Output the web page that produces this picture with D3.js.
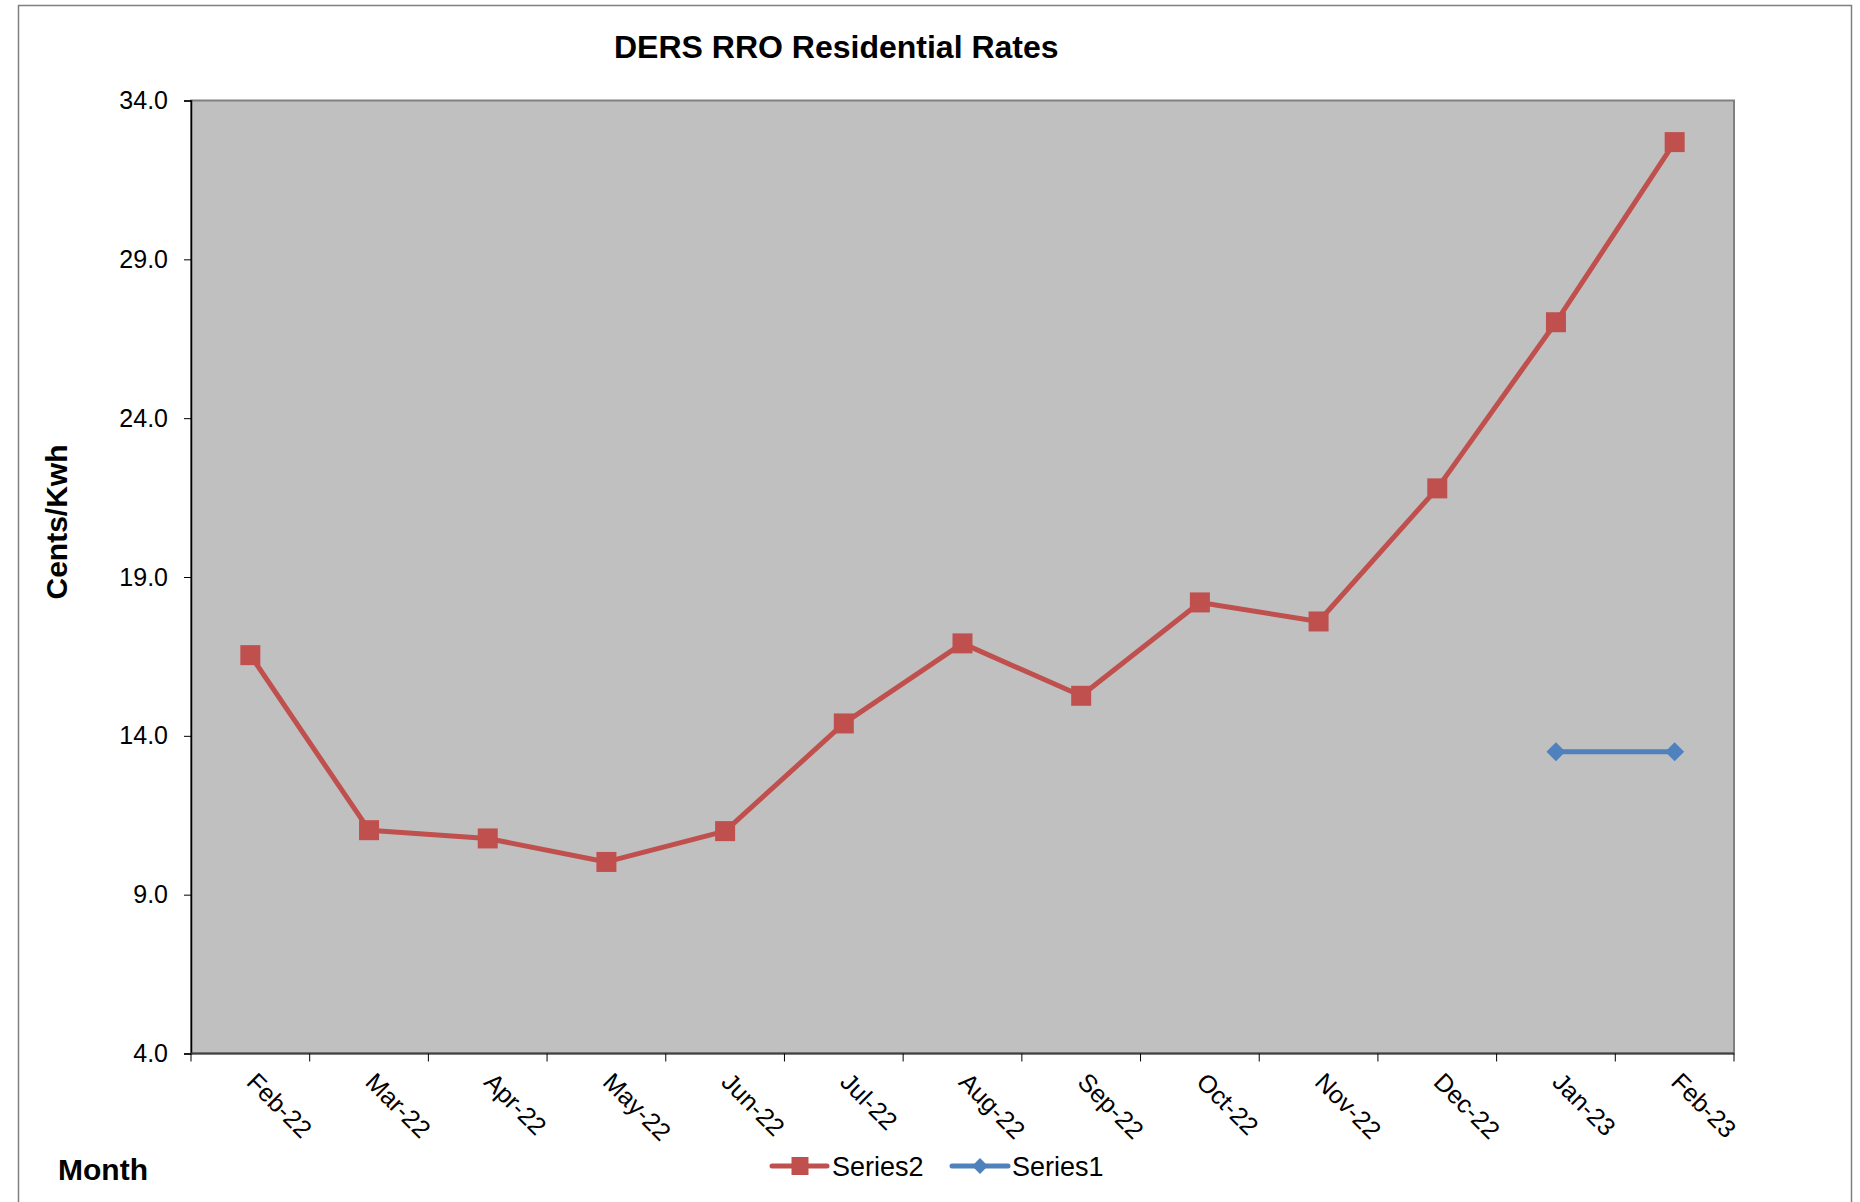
<!DOCTYPE html>
<html>
<head>
<meta charset="utf-8">
<script src="https://cdn.jsdelivr.net/npm/d3@7"></script>
<style>
  html, body { margin: 0; padding: 0; background: #ffffff; }
  svg { display: block; font-family: "Liberation Sans", Arial, sans-serif; }
</style>
</head>
<body>
<svg id="chart" width="1860" height="1202"></svg>
<script>
// ---- data ----
const categories = ["Feb-22","Mar-22","Apr-22","May-22","Jun-22","Jul-22","Aug-22","Sep-22","Oct-22","Nov-22","Dec-22","Jan-23","Feb-23"];
const series2 = [16.54, 11.03, 10.77, 10.03, 11.00, 14.39, 16.91, 15.26, 18.20, 17.60, 21.79, 27.02, 32.69];
const series1 = [null, null, null, null, null, null, null, null, null, null, null, 13.5, 13.5];
const yTicks = [4, 9, 14, 19, 24, 29, 34];
const seriesNames = ["Series2", "Series1"];
const colors = { Series2: "#c0504d", Series1: "#4f81bd" };

// ---- layout ----
const svg = d3.select("#chart");
const plot = { left: 191, right: 1734, top: 100.5, bottom: 1053.5 };

const x = d3.scaleBand().domain(categories).range([plot.left, plot.right]).padding(0);
const y = d3.scaleLinear().domain([4, 34]).range([plot.bottom, plot.top]);
const cx = c => x(c) + x.bandwidth() / 2;

// outer chart border
svg.append("rect")
  .attr("x", 18.5).attr("y", 5.5)
  .attr("width", 1851.5 - 18.5).attr("height", 1230)
  .attr("fill", "none").attr("stroke", "#7f7f7f").attr("stroke-width", 1.5);

// plot area
svg.append("rect")
  .attr("x", plot.left).attr("y", plot.top)
  .attr("width", plot.right - plot.left).attr("height", plot.bottom - plot.top)
  .attr("fill", "#c0c0c0").attr("stroke", "#808080").attr("stroke-width", 2);

// title
svg.append("text")
  .attr("x", 614).attr("y", 58)
  .attr("font-size", 32).attr("font-weight", "bold").attr("fill", "#000")
  .text("DERS RRO Residential Rates");

// y axis
const yAxis = d3.axisLeft(y).tickValues(yTicks).tickFormat(d3.format(".1f")).tickSize(7).tickPadding(16);
const gy = svg.append("g").attr("transform", `translate(${plot.left},0)`).call(yAxis);
gy.select(".domain").attr("stroke", "#000").attr("stroke-width", 1.5);
gy.selectAll(".tick line").attr("stroke", "#000").attr("stroke-width", 1);
gy.selectAll(".tick text").attr("font-size", 25).attr("fill", "#000")
  .attr("font-family", "Liberation Sans, Arial, sans-serif");

// x axis line
svg.append("line")
  .attr("x1", plot.left).attr("x2", plot.right)
  .attr("y1", plot.bottom).attr("y2", plot.bottom)
  .attr("stroke", "#404040").attr("stroke-width", 2);

// x boundary ticks
const boundaries = categories.map(c => x(c)).concat([x(categories[categories.length - 1]) + x.bandwidth()]);
svg.append("g").selectAll("line").data(boundaries).join("line")
  .attr("x1", d => d).attr("x2", d => d)
  .attr("y1", plot.bottom).attr("y2", plot.bottom + 8)
  .attr("stroke", "#000").attr("stroke-width", 1);

// x labels rotated 45deg
svg.append("g").selectAll("text").data(categories).join("text")
  .attr("transform", c => `translate(${cx(c) - 5},${plot.bottom + 30}) rotate(45)`)
  .attr("font-size", 25).attr("fill", "#000")
  .text(c => c);

// axis titles
svg.append("text")
  .attr("transform", `translate(67,522) rotate(-90)`)
  .attr("text-anchor", "middle")
  .attr("font-size", 30).attr("font-weight", "bold").attr("fill", "#000")
  .text("Cents/Kwh");

svg.append("text")
  .attr("x", 58).attr("y", 1180)
  .attr("font-size", 30).attr("font-weight", "bold").attr("fill", "#000")
  .text("Month");

// lines
const line = d3.line()
  .defined(d => d.v !== null)
  .x(d => cx(d.c)).y(d => y(d.v));

const s2 = categories.map((c, i) => ({ c, v: series2[i] }));
const s1 = categories.map((c, i) => ({ c, v: series1[i] }));

svg.append("path").datum(s2)
  .attr("d", line).attr("fill", "none")
  .attr("stroke", colors.Series2).attr("stroke-width", 5).attr("stroke-linejoin", "round");

svg.append("path").datum(s1)
  .attr("d", line).attr("fill", "none")
  .attr("stroke", colors.Series1).attr("stroke-width", 5).attr("stroke-linejoin", "round");

// markers
const sq = 20;
svg.append("g").selectAll("rect").data(s2.filter(d => d.v !== null)).join("rect")
  .attr("x", d => cx(d.c) - sq / 2).attr("y", d => y(d.v) - sq / 2)
  .attr("width", sq).attr("height", sq)
  .attr("fill", colors.Series2);

const diamond = d3.symbol().type(d3.symbolDiamond2).size(230);
svg.append("g").selectAll("path").data(s1.filter(d => d.v !== null)).join("path")
  .attr("transform", d => `translate(${cx(d.c)},${y(d.v)})`)
  .attr("d", diamond)
  .attr("fill", colors.Series1);

// legend
const legend = [
  { name: seriesNames[0], x1: 772, x2: 827, mx: 800, tx: 832, marker: "square" },
  { name: seriesNames[1], x1: 952, x2: 1008, mx: 980, tx: 1012, marker: "diamond" }
];
const ly = 1166;
const lg = svg.append("g");
legend.forEach(l => {
  lg.append("line")
    .attr("x1", l.x1).attr("x2", l.x2).attr("y1", ly).attr("y2", ly)
    .attr("stroke", colors[l.name]).attr("stroke-width", 5).attr("stroke-linecap", "round");
  if (l.marker === "square") {
    lg.append("rect").attr("x", l.mx - 8.5).attr("y", ly - 9).attr("width", 17).attr("height", 18)
      .attr("fill", colors[l.name]);
  } else {
    lg.append("path").attr("transform", `translate(${l.mx},${ly})`)
      .attr("d", d3.symbol().type(d3.symbolDiamond2).size(160)).attr("fill", colors[l.name]);
  }
  lg.append("text").attr("x", l.tx).attr("y", ly + 9.5)
    .attr("font-size", 27).attr("fill", "#000").text(l.name);
});
</script>
</body>
</html>
